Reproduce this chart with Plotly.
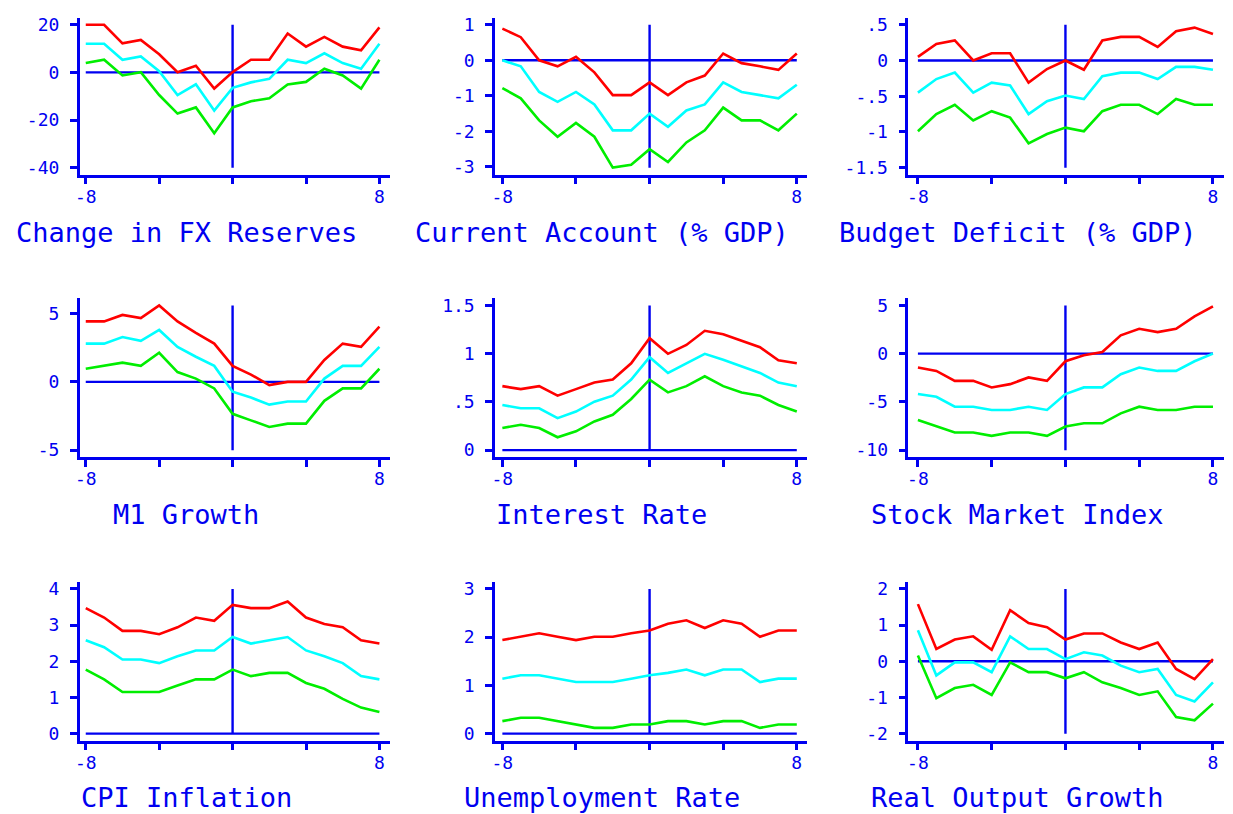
import plotly.graph_objects as go

horizon = list(range(-8, 9))

titles = ["Change in FX Reserves", "Current Account (% GDP)", "Budget Deficit (% GDP)",
          "M1 Growth", "Interest Rate", "Stock Market Index",
          "CPI Inflation", "Unemployment Rate", "Real Output Growth"]

fx_hi  = [20, 20, 12.2, 13.6, 7.6, 0.1, 2.8, -6.8, 0.1, 5.3, 5.3, 16.3, 10.8, 14.9, 10.8, 9.3, 18.9]
fx_mid = [12, 12, 5.3, 6.7, 0.5, -9.5, -5, -16, -6.5, -4.2, -2.7, 5.3, 3.9, 8, 3.9, 1.5, 12]
fx_lo  = [3.9, 5.3, -1.3, 0.1, -9.5, -17.3, -14.7, -25.6, -14.7, -12.1, -10.9, -5.1, -4, 1.5, -1.3, -6.8, 5.3]

ca_hi  = [0.89, 0.65, 0, -0.17, 0.1, -0.34, -0.98, -0.98, -0.62, -0.98, -0.62, -0.43, 0.19, -0.08, -0.17, -0.27, 0.19]
ca_mid = [0.0, -0.17, -0.89, -1.17, -0.89, -1.24, -1.97, -1.97, -1.5, -1.87, -1.41, -1.24, -0.62, -0.89, -0.98, -1.07, -0.69]
ca_lo  = [-0.78, -1.07, -1.69, -2.15, -1.76, -2.15, -3.02, -2.94, -2.5, -2.86, -2.31, -1.97, -1.33, -1.69, -1.69, -1.97, -1.5]

bd_hi  = [0.05, 0.23, 0.28, 0, 0.1, 0.1, -0.31, -0.12, 0, -0.13, 0.28, 0.33, 0.33, 0.19, 0.41, 0.46, 0.37]
bd_mid = [-0.45, -0.26, -0.17, -0.45, -0.31, -0.35, -0.75, -0.57, -0.49, -0.54, -0.22, -0.17, -0.17, -0.26, -0.09, -0.09, -0.13]
bd_lo  = [-0.99, -0.75, -0.62, -0.84, -0.71, -0.8, -1.16, -1.03, -0.94, -0.99, -0.71, -0.62, -0.62, -0.75, -0.54, -0.62, -0.62]

m1_hi  = [4.43, 4.43, 4.9, 4.67, 5.6, 4.43, 3.59, 2.8, 1.17, 0.53, -0.24, 0, 0, 1.6, 2.8, 2.56, 4.04]
m1_mid = [2.8, 2.8, 3.28, 3.01, 3.8, 2.56, 1.84, 1.17, -0.72, -1.15, -1.67, -1.44, -1.44, 0.24, 1.17, 1.17, 2.56]
m1_lo  = [0.96, 1.17, 1.41, 1.17, 2.13, 0.72, 0.24, -0.48, -2.34, -2.82, -3.3, -3.06, -3.06, -1.39, -0.48, -0.48, 0.96]

ir_hi  = [0.663, 0.632, 0.663, 0.564, 0.632, 0.70, 0.731, 0.90, 1.16, 0.998, 1.09, 1.237, 1.20, 1.134, 1.066, 0.93, 0.90]
ir_mid = [0.468, 0.434, 0.434, 0.331, 0.40, 0.502, 0.564, 0.731, 0.963, 0.80, 0.90, 0.998, 0.936, 0.868, 0.80, 0.70, 0.663]
ir_lo  = [0.229, 0.263, 0.229, 0.133, 0.195, 0.297, 0.366, 0.53, 0.731, 0.598, 0.663, 0.765, 0.663, 0.598, 0.564, 0.468, 0.40]

sm_hi  = [-1.44, -1.79, -2.82, -2.82, -3.5, -3.16, -2.47, -2.82, -0.79, -0.17, 0.17, 1.89, 2.58, 2.23, 2.58, 3.85, 4.91]
sm_mid = [-4.19, -4.47, -5.5, -5.5, -5.84, -5.84, -5.5, -5.84, -4.19, -3.5, -3.5, -2.13, -1.44, -1.79, -1.79, -0.79, 0.0]
sm_lo  = [-6.87, -7.56, -8.18, -8.18, -8.52, -8.18, -8.18, -8.52, -7.56, -7.22, -7.22, -6.19, -5.5, -5.84, -5.84, -5.5, -5.5]

cpi_hi  = [3.47, 3.21, 2.84, 2.84, 2.75, 2.94, 3.21, 3.12, 3.56, 3.47, 3.47, 3.65, 3.21, 3.03, 2.94, 2.58, 2.49]
cpi_mid = [2.58, 2.39, 2.05, 2.05, 1.95, 2.14, 2.3, 2.3, 2.67, 2.49, 2.58, 2.67, 2.3, 2.14, 1.95, 1.59, 1.5]
cpi_lo  = [1.77, 1.5, 1.15, 1.15, 1.15, 1.33, 1.5, 1.5, 1.77, 1.59, 1.68, 1.68, 1.4, 1.24, 0.96, 0.72, 0.6]

un_hi  = [1.94, 2.01, 2.08, 2.01, 1.94, 2.01, 2.01, 2.08, 2.14, 2.28, 2.35, 2.19, 2.35, 2.28, 2.01, 2.14, 2.14]
un_mid = [1.14, 1.21, 1.21, 1.14, 1.07, 1.07, 1.07, 1.14, 1.21, 1.26, 1.33, 1.21, 1.33, 1.33, 1.07, 1.14, 1.14]
un_lo  = [0.26, 0.33, 0.33, 0.26, 0.19, 0.12, 0.12, 0.19, 0.19, 0.26, 0.26, 0.19, 0.26, 0.26, 0.12, 0.19, 0.19]

ro_hi  = [1.58, 0.34, 0.6, 0.69, 0.32, 1.41, 1.06, 0.94, 0.6, 0.77, 0.77, 0.52, 0.34, 0.52, -0.21, -0.49, 0.06]
ro_mid = [0.86, -0.39, -0.03, -0.03, -0.3, 0.69, 0.34, 0.34, 0.06, 0.25, 0.16, -0.12, -0.3, -0.21, -0.93, -1.11, -0.58]
ro_lo  = [0.16, -1.02, -0.74, -0.65, -0.93, -0.03, -0.3, -0.3, -0.47, -0.3, -0.58, -0.74, -0.93, -0.83, -1.54, -1.63, -1.17]

series = [(fx_hi, fx_mid, fx_lo), (ca_hi, ca_mid, ca_lo), (bd_hi, bd_mid, bd_lo),
          (m1_hi, m1_mid, m1_lo), (ir_hi, ir_mid, ir_lo), (sm_hi, sm_mid, sm_lo),
          (cpi_hi, cpi_mid, cpi_lo), (un_hi, un_mid, un_lo), (ro_hi, ro_mid, ro_lo)]

ytick_vals = [[-40, -20, 0, 20], [-3, -2, -1, 0, 1], [-1.5, -1, -0.5, 0, 0.5],
              [-5, 0, 5], [0, 0.5, 1, 1.5], [-10, -5, 0, 5],
              [0, 1, 2, 3, 4], [0, 1, 2, 3], [-2, -1, 0, 1, 2]]
ytick_text = [["-40", "-20", "0", "20"], ["-3", "-2", "-1", "0", "1"], ["-1.5", "-1", "-.5", "0", ".5"],
              ["-5", "0", "5"], ["0", ".5", "1", "1.5"], ["-10", "-5", "0", "5"],
              ["0", "1", "2", "3", "4"], ["0", "1", "2", "3"], ["-2", "-1", "0", "1", "2"]]
xtick_vals = [-8, -4, 0, 4, 8]
xtick_text = ["-8", "", "", "", "8"]

# layout geometry (pixels)
W, H = 1233, 814
col_px = [(75, 387), (492, 805), (907, 1224)]
col_xrange = [(-8.33, 8.6), (-8.4, 8.54), (-8.52, 8.6)]
row_px = [(14, 172), (297, 457), (583, 743)]
title_x = [182, 599, 1017]
title_y = [230, 515, 800]

BLUE = "#0000f0"
COLORS = ["#ff0000", "#00ffff", "#00ee00"]
FONT = "DejaVu Sans Mono"

fig = go.Figure()
layout = dict(width=W, height=H, margin=dict(l=0, r=0, t=0, b=0),
              paper_bgcolor="white", plot_bgcolor="white", showlegend=False)
annotations = []

for i in range(9):
    r, c = divmod(i, 3)
    k = "" if i == 0 else str(i + 1)
    xa, ya = "x" + k, "y" + k
    hi, mid, lo = series[i]
    allv = hi + mid + lo
    ylo = min(ytick_vals[i][0], min(allv))
    yhi = max(ytick_vals[i][-1], max(allv))
    pad = 0.048 * (yhi - ylo)

    # reference lines
    fig.add_trace(go.Scatter(x=[horizon[0], horizon[-1]], y=[0, 0], mode="lines",
                             line=dict(color=BLUE, width=2.4), xaxis=xa, yaxis=ya, hoverinfo="skip"))
    fig.add_trace(go.Scatter(x=[0, 0], y=[ylo, yhi], mode="lines",
                             line=dict(color=BLUE, width=2.4), xaxis=xa, yaxis=ya, hoverinfo="skip"))
    for s, col in zip((lo, mid, hi), COLORS[::-1]):
        fig.add_trace(go.Scatter(x=horizon, y=s, mode="lines",
                                 line=dict(color=col, width=2.6), xaxis=xa, yaxis=ya))

    x0, x1 = col_px[c]
    y0, y1 = row_px[r]
    layout["xaxis" + k] = dict(domain=[x0 / W, x1 / W], range=list(col_xrange[c]), anchor=ya,
                               showgrid=False, zeroline=False, showline=True, linecolor=BLUE,
                               linewidth=2.5, ticks="outside", ticklen=7, tickwidth=2.5,
                               tickcolor=BLUE, tickvals=xtick_vals, ticktext=xtick_text,
                               ticklabelstandoff=-3,
                               tickfont=dict(family=FONT, size=18, color=BLUE))
    layout["yaxis" + k] = dict(domain=[1 - y1 / H, 1 - y0 / H], range=[ylo - pad, yhi + pad],
                               anchor=xa, showgrid=False, zeroline=False, showline=True,
                               linecolor=BLUE, linewidth=2.5, ticks="outside", ticklen=7,
                               tickwidth=2.5, tickcolor=BLUE, tickvals=ytick_vals[i],
                               ticktext=ytick_text[i], ticklabelstandoff=7,
                               tickfont=dict(family=FONT, size=18, color=BLUE))
    annotations.append(dict(text=titles[i], x=title_x[c] / W, y=1 - title_y[r] / H,
                            xref="paper", yref="paper", xanchor="center", yanchor="middle",
                            showarrow=False, font=dict(family=FONT, size=27, color=BLUE)))

layout["annotations"] = annotations
fig.update_layout(**layout)
fig.write_html("out.html", config={"displayModeBar": False},
               post_script="document.body.style.margin='0px';document.body.style.overflow='hidden';")
